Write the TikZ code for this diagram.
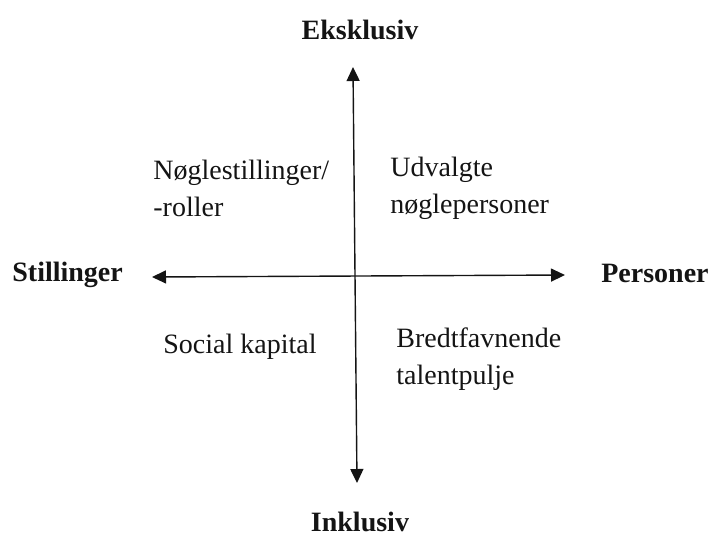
\documentclass[tikz,border=0pt]{standalone}
\usepackage{fontspec}
\setmainfont{Liberation Serif}
\usetikzlibrary{arrows.meta, positioning}

\begin{document}
\begin{tikzpicture}[
    x=0.5pt, y=-0.5pt,
    % Styles
    axislabel/.style={
        inner sep=0pt,
        font=\fontsize{14}{17}\selectfont\bfseries, text=axisblack
    },
    quadrant/.style={
        inner sep=0pt, anchor=west, align=left,
        font=\fontsize{14}{18.5}\selectfont, text=axisblack
    },
    axis/.style={
        {Triangle[length=7pt, width=6.5pt]}-{Triangle[length=7pt, width=6.5pt]},
        line width=0.7pt, color=axisblack
    },
]
% Define colors
\definecolor{axisblack}{RGB}{20,20,20}

\useasboundingbox (0,0) rectangle (712,543);

% Axis end points
\coordinate (top) at (353,67);
\coordinate (bottom) at (357,483);
\coordinate (left) at (152,277);
\coordinate (right) at (565,275);

% Axes
\draw[axis] (bottom) -- (top);
\draw[axis] (left) -- (right);

% Axis labels
\node[axislabel] (eksklusiv) at (360,30) {Eksklusiv};
\node[axislabel, anchor=south] (inklusiv) at (360,532) {Inklusiv};
\node[axislabel, anchor=west] (stillinger) at (12,275) {Stillinger};
\node[axislabel, anchor=east] (personer) at (709,273) {Personer};

% Quadrants
\node[quadrant] (noegle) at (153,188) {Nøglestillinger/\\-roller};
\node[quadrant] (udvalgte) at (390,188) {Udvalgte\\nøglepersoner};
\node[quadrant] (social) at (163,347) {Social kapital};
\node[quadrant] (bredt) at (396,359) {Bredtfavnende\\talentpulje};

\end{tikzpicture}
\end{document}
